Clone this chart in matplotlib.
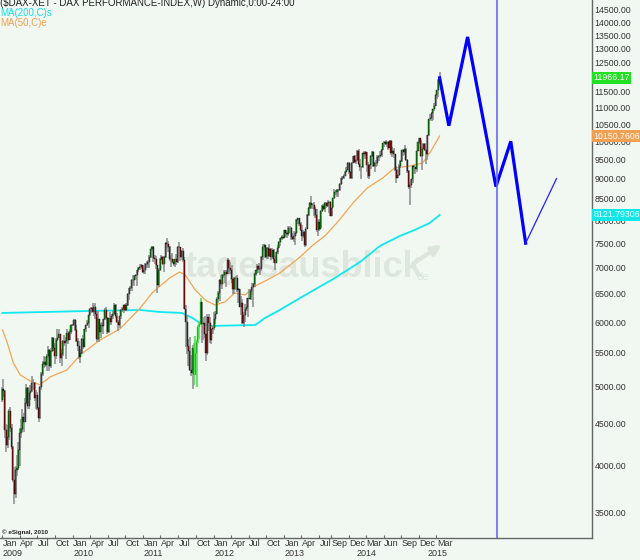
import numpy as np
import pandas as pd
import matplotlib
matplotlib.use("Agg")
import matplotlib.pyplot as plt
import matplotlib.dates as mdates
import matplotlib.transforms as mtransforms

plt.rcParams['font.family'] = ['Liberation Sans', 'DejaVu Sans']

# Weekly DAX bars (week ending Friday), Jan 2009 - Mar 2015
close_2009 = [4973, 4937, 4424, 4241, 4338, 4665, 4451, 4216, 3843, 3695,
              3953, 3977, 4177, 4384, 4443, 4594, 4527, 4769, 4987, 4738,
              4918, 4941, 5053, 5052, 4840, 4884, 4708, 4576, 4999, 5185,
              5332, 5368, 5309, 5458, 5553, 5294, 5528, 5732, 5581, 5459,
              5710, 5743, 5795, 5415, 5489, 5681, 5663, 5686, 5817, 5709,
              5831, 5945]
high_2009 = [4990, 5111, 4950, 4500, 4490, 4700, 4720, 4500, 4230, 3990,
             4000, 4120, 4280, 4450, 4560, 4690, 4640, 4840, 5040, 4990,
             4980, 5030, 5160, 5110, 5070, 4960, 4930, 4720, 5010, 5210,
             5370, 5460, 5440, 5480, 5610, 5560, 5570, 5760, 5750, 5660,
             5730, 5890, 5880, 5810, 5560, 5700, 5780, 5760, 5880, 5850,
             5880, 5960]
low_2009 = [4790, 4860, 4320, 4160, 4210, 4300, 4400, 4190, 3820, 3588,
            3650, 3880, 3950, 4000, 4320, 4400, 4400, 4520, 4760, 4700,
            4700, 4820, 4920, 4950, 4800, 4700, 4680, 4520, 4570, 4960,
            5150, 5270, 5290, 5220, 5420, 5230, 5270, 5510, 5530, 5330,
            5400, 5690, 5730, 5350, 5300, 5460, 5610, 5410, 5660, 5640,
            5700, 5800]

close_2010 = [5957, 6037, 5875, 5696, 5608, 5434, 5500, 5722, 5598, 5877,
              5945, 5982, 6120, 6236, 6250, 6180, 6259, 6136, 5716, 6056,
              5830, 5946, 5938, 6049, 6216, 6070, 5835, 6065, 5998, 6113,
              6148, 6291, 6110, 6006, 5951, 6099, 6215, 6235, 6299, 6212,
              6291, 6491, 6606, 6601, 6751, 6754, 6833, 6848, 6947, 6992,
              7006, 7057, 6914]
high_2010 = [5970, 6060, 6050, 5950, 5740, 5690, 5560, 5740, 5780, 5890,
             5950, 6040, 6130, 6240, 6270, 6340, 6290, 6330, 6200, 6200,
             6060, 5990, 6010, 6060, 6240, 6260, 6090, 6070, 6170, 6140,
             6200, 6340, 6320, 6160, 6030, 6100, 6230, 6270, 6300, 6320,
             6330, 6510, 6610, 6640, 6770, 6860, 6850, 6880, 6960, 7010,
             7070, 7070, 7060]
low_2010 = [5930, 5940, 5860, 5670, 5530, 5410, 5340, 5480, 5560, 5590,
            5830, 5930, 5900, 6100, 6160, 6170, 6110, 6060, 5680, 5700,
            5670, 5740, 5840, 5800, 6030, 6040, 5800, 5820, 5960, 5950,
            6060, 6130, 6070, 5990, 5860, 5900, 6060, 6170, 6150, 6200,
            6190, 6280, 6390, 6560, 6560, 6660, 6640, 6760, 6650, 6920,
            6960, 6970, 6900]

close_2011 = [6947, 7075, 7062, 7102, 7216, 7371, 7426, 7185, 7178, 7044,
              6664, 6947, 7176, 7217, 7068, 7205, 7514, 7492, 7414, 7164,
              7164, 7109, 7070, 7165, 7121, 7419, 7420, 7220, 7345, 7159,
              6236, 5997, 5602, 5537, 5246, 5190, 5574, 5164, 5502, 5675,
              5920, 5971, 6346, 5966, 5986, 5800, 5492, 6080, 5987, 5702,
              5878, 5898]
high_2011 = [7020, 7090, 7140, 7160, 7250, 7380, 7440, 7430, 7260, 7230,
             7060, 6990, 7200, 7260, 7240, 7230, 7530, 7600, 7540, 7440,
             7250, 7300, 7170, 7180, 7280, 7430, 7530, 7420, 7350, 7400,
             7210, 6290, 6130, 5720, 5750, 5470, 5630, 5660, 5770, 5700,
             5960, 6010, 6430, 6350, 6080, 6100, 5810, 6140, 6140, 6090,
             5890, 5930]
low_2011 = [6880, 6870, 6990, 7020, 7000, 7190, 7330, 7110, 7080, 6980,
            6510, 6620, 6930, 7150, 7050, 6920, 7190, 7400, 7310, 7130,
            7010, 7100, 7030, 7010, 7050, 7100, 7400, 7130, 7150, 7120,
            6230, 5600, 5480, 5300, 5220, 5150, 4965, 5020, 5230, 5000,
            5650, 5720, 5960, 5650, 5710, 5740, 5370, 5470, 5860, 5650,
            5640, 5810]

close_2012 = [6057, 6143, 6404, 6512, 6767, 6692, 6849, 6864, 6921, 6880,
              7157, 6996, 6947, 6775, 6583, 6801, 6801, 6562, 6580, 6271,
              6339, 5978, 6131, 6229, 6263, 6416, 6410, 6558, 6630, 6689,
              6865, 6945, 7040, 6971, 6970, 7214, 7412, 7451, 7216, 7398,
              7232, 7380, 7203, 7363, 7164, 7101, 7309, 7405, 7518, 7614,
              7636, 7612]
high_2012 = [6180, 6200, 6440, 6560, 6780, 6860, 6880, 6950, 6960, 6960,
             7190, 7160, 7110, 7050, 6800, 6820, 6840, 6850, 6610, 6590,
             6460, 6400, 6170, 6310, 6420, 6430, 6580, 6580, 6710, 6700,
             6890, 6960, 7070, 7100, 7040, 7230, 7480, 7480, 7460, 7420,
             7410, 7480, 7390, 7390, 7380, 7230, 7320, 7460, 7550, 7620,
             7680, 7670]
low_2012 = [5870, 5970, 6140, 6340, 6370, 6650, 6590, 6790, 6710, 6630,
            6870, 6920, 6880, 6700, 6490, 6500, 6570, 6540, 6330, 6260,
            6130, 5970, 5920, 6010, 6200, 6080, 6400, 6390, 6470, 6260,
            6630, 6830, 6890, 6900, 6860, 6930, 7150, 7330, 7190, 7180,
            7180, 7220, 7150, 7170, 7100, 6950, 7120, 7270, 7400, 7450,
            7560, 7590]

close_2013 = [7776, 7715, 7702, 7833, 7833, 7634, 7593, 7661, 7708, 8000,
              8043, 7912, 7795, 7659, 7745, 7459, 7814, 8122, 8278, 8399,
              8353, 8349, 8255, 8128, 7789, 7959, 7806, 8212, 8331, 8267,
              8409, 8338, 8391, 8417, 8103, 8275, 8510, 8675, 8661, 8725,
              8725, 8870, 9018, 9010, 9078, 9168, 9225, 9405, 9172, 9007,
              9400, 9589]
high_2013 = [7780, 7790, 7760, 7870, 7880, 7860, 7720, 7770, 7740, 8020,
             8060, 8050, 7960, 7900, 7790, 7760, 7840, 8140, 8300, 8420,
             8560, 8410, 8430, 8300, 8260, 8010, 8030, 8230, 8360, 8370,
             8420, 8420, 8480, 8420, 8440, 8290, 8520, 8730, 8710, 8730,
             8740, 8880, 9020, 9070, 9120, 9190, 9290, 9420, 9420, 9200,
             9420, 9600]
low_2013 = [7600, 7640, 7610, 7660, 7710, 7570, 7560, 7530, 7460, 7690,
            7920, 7870, 7770, 7550, 7600, 7420, 7440, 7840, 8100, 8260,
            8260, 8270, 8090, 8050, 7740, 7660, 7760, 7830, 8180, 8240,
            8200, 8290, 8300, 8170, 8100, 8090, 8300, 8500, 8600, 8540,
            8550, 8700, 8850, 8970, 8990, 9060, 9160, 9230, 9120, 8990,
            8990, 9400]

close_2014 = [9435, 9473, 9742, 9392, 9306, 9292, 9663, 9657, 9692, 9350,
              9056, 9342, 9588, 9695, 9315, 9409, 9401, 9556, 9581, 9630,
              9768, 9943, 9987, 9912, 9987, 9815, 10009, 9666, 9720, 9644,
              9210, 9009, 9092, 9339, 9470, 9747, 9691, 9799, 9490, 9195,
              8788, 8850, 8988, 9327, 9291, 9252, 9732, 9980, 10087, 9594,
              9787, 9922]
high_2014 = [9620, 9490, 9760, 9790, 9500, 9320, 9670, 9720, 9720, 9690,
             9420, 9370, 9610, 9730, 9720, 9420, 9490, 9620, 9630, 9730,
             9780, 9960, 10000, 10050, 9990, 10000, 10050, 10030, 9830, 9800,
             9650, 9340, 9250, 9380, 9480, 9770, 9790, 9890, 9800, 9500,
             9230, 8900, 9000, 9350, 9360, 9310, 9740, 9990, 10090, 10050,
             9850, 9940]
low_2014 = [9400, 9370, 9460, 9360, 9200, 8990, 9270, 9560, 9520, 9180,
            9010, 9000, 9260, 9580, 9290, 9170, 9290, 9320, 9450, 9550,
            9560, 9750, 9840, 9890, 9840, 9750, 9800, 9620, 9570, 9550,
            9190, 8900, 9010, 9060, 9270, 9440, 9600, 9620, 9450, 9140,
            8740, 8355, 8770, 8890, 9120, 9120, 9180, 9730, 9930, 9580,
            9220, 9780]

close_2015 = [9765, 9648, 10168, 10649, 10694, 10846, 10963, 11050, 11402, 11550, 11901, 11966]
high_2015 = [9960, 9780, 10190, 10650, 10810, 10860, 10970, 11130, 11420, 11560, 11920, 12150]
low_2015 = [9720, 9380, 9480, 10150, 10580, 10580, 10620, 10900, 11040, 11280, 11330, 11860]

first_open = 4810

# weeks drawn with the bright green signal outline
signal_weeks = ['2011-09-23', '2011-09-30', '2011-10-07', '2011-10-14', '2011-10-21', '2011-10-28']

# Moving averages as shown by the chart (vertices)
ma200_dates = ['2009-01-01', '2010-04-01', '2010-12-17', '2011-03-28', '2011-07-20',
               '2011-09-13', '2011-10-24', '2011-12-13', '2012-08-04', '2012-09-24',
               '2012-12-10', '2013-03-25', '2013-09-13', '2014-01-30', '2014-05-12',
               '2014-08-24', '2014-11-09', '2015-01-26', '2015-03-18']
ma200_values = [6158, 6193, 6210, 6175, 6158, 6072, 5986, 5936, 5952, 6072,
                6210, 6425, 6779, 7112, 7440, 7654, 7785, 7941, 8122]

ma50_dates = ['2009-01-02', '2009-01-27', '2009-02-27', '2009-04-04', '2009-05-25',
              '2009-07-15', '2009-09-05', '2009-12-02', '2010-02-09', '2010-05-23',
              '2010-09-02', '2010-12-17', '2011-02-21', '2011-05-19', '2011-07-09',
              '2011-08-07', '2011-09-28', '2011-11-18', '2012-01-08', '2012-02-29',
              '2012-04-20', '2012-06-13', '2012-08-04', '2012-10-05', '2012-12-10',
              '2013-03-25', '2013-05-31', '2013-07-31', '2013-10-01', '2013-12-24',
              '2014-03-08', '2014-05-27', '2014-07-27', '2014-10-16', '2014-12-20',
              '2015-01-26', '2015-03-18']
ma50_values = [5870, 5657, 5348, 5169, 5082, 5026, 5139, 5242, 5469, 5706,
               5886, 6245, 6534, 6798, 6914, 6856, 6572, 6388, 6299, 6352,
               6516, 6479, 6646, 6760, 6894, 7214, 7462, 7654, 7941, 8402,
               8765, 9017, 9275, 9328, 9407, 9677, 10151]

# hand-drawn forecast path
forecast_dates = ['2015-03-18', '2015-05-05', '2015-08-10', '2016-01-04', '2016-03-21', '2016-06-06']
forecast_values = [11966, 10450, 13430, 8800, 10000, 7500]
rebound_dates = ['2016-06-06', '2016-11-13']
rebound_values = [7500, 9000]
marker_date = '2016-01-08'

last_labels = [('11966.17', 11966, '#22e022'), ('10150.7606', 10151, '#f0a050'),
               ('8121.79306', 8122, '#10e8e8')]

# ---------------------------------------------------------------
closes = np.array(close_2009 + close_2010 + close_2011 + close_2012 + close_2013 + close_2014 + close_2015, float)
highs = np.array(high_2009 + high_2010 + high_2011 + high_2012 + high_2013 + high_2014 + high_2015, float)
lows = np.array(low_2009 + low_2010 + low_2011 + low_2012 + low_2013 + low_2014 + low_2015, float)
opens = np.concatenate([[first_open], closes[:-1]])

fridays = pd.date_range('2009-01-02', periods=len(closes), freq='W-FRI')
weeks = fridays - pd.Timedelta(days=2)
x = mdates.date2num(weeks)
signal = fridays.isin(pd.to_datetime(signal_weeks))

bg = '#f1f8f1'
fig = plt.figure(figsize=(6.4, 5.6), dpi=100, facecolor=bg)
ax = fig.add_axes([0, 22 / 560, 592 / 640, 538 / 560], facecolor=bg)
ax.set_yscale('log')
ax.set_ylim(3261, 14907)
ax.set_xlim(mdates.datestr2num('2008-12-20'), mdates.datestr2num('2017-05-16'))

# watermark
ax.text(mdates.datestr2num('2011-08-01'), 7000, 'tagesausblick', fontsize=26, fontweight='bold',
        color='#dde7dd', ha='left', va='center', zorder=0)
ax.text(mdates.datestr2num('2014-11-20'), 6750, 'de', fontsize=8, color='#dde7dd', zorder=0)
ax.annotate('', xy=(mdates.datestr2num('2015-04-10'), 7500), xytext=(mdates.datestr2num('2014-10-20'), 7050),
            arrowprops=dict(arrowstyle='-|>', color='#dce7dc', lw=3, mutation_scale=14), zorder=0)

# moving averages
ax.plot(pd.to_datetime(ma200_dates), ma200_values, color='#10e8f0', lw=1.3, zorder=2)
ax.plot(pd.to_datetime(ma50_dates), ma50_values, color='#f5a552', lw=0.9, zorder=2)

# candles
up = closes >= opens
ax.vlines(x, lows, highs, color=np.where(signal, '#44dd44', '#8a8a8a'), lw=1.1, zorder=3)
body_lo = np.minimum(opens, closes)
body_hi = np.maximum(opens, closes)
ax.bar(x, body_hi - body_lo, bottom=body_lo, width=5.5,
       color=np.where(up, '#0a9a0a', '#9a0a0a'),
       edgecolor=np.where(signal, '#44dd44', '#111111'), lw=0.3, zorder=4)

# forecast
ax.plot(pd.to_datetime(forecast_dates), forecast_values, color='#0000ff', lw=2.3, zorder=5,
        solid_joinstyle='miter')
ax.plot(pd.to_datetime(rebound_dates), rebound_values, color='#2020ff', lw=0.9, zorder=5)
ax.axvline(mdates.datestr2num(marker_date), color='#6a6af0', lw=1.2, zorder=5)

# axes styling
for side in ['top', 'left']:
    ax.spines[side].set_visible(False)
for side in ['right', 'bottom']:
    ax.spines[side].set_color('#666666')
    ax.spines[side].set_linewidth(1)

ax.yaxis.tick_right()
yt = np.arange(3500, 15001, 500)
ax.yaxis.set_major_locator(matplotlib.ticker.FixedLocator(yt))
ax.yaxis.set_minor_locator(matplotlib.ticker.NullLocator())
ax.set_yticklabels(['%.2f' % v for v in yt])
ax.tick_params(axis='y', length=0, pad=2, labelsize=6.3, labelcolor='#333333')

# month ticks and labels
month_ticks = (['%d-%02d-01' % (y, m) for y in range(2009, 2013) for m in (1, 4, 7, 10)]
               + ['2013-01-01', '2013-04-01', '2013-07-01', '2013-09-01', '2013-12-01',
                  '2014-03-01', '2014-06-01', '2014-09-01', '2014-12-01', '2015-03-01'])
month_names = [pd.Timestamp(d).strftime('%b') for d in month_ticks]
year_pos = ['2009-01-01', '2010-01-01', '2011-01-01', '2012-01-01', '2013-01-01', '2014-01-10', '2015-01-10']
year_names = ['2009', '2010', '2011', '2012', '2013', '2014', '2015']

ax.set_xticks(mdates.datestr2num(month_ticks))
ax.set_xticklabels([])
ax.tick_params(axis='x', length=2, direction='in', color='#666666')
trans = mtransforms.blended_transform_factory(ax.transData, fig.transFigure)
for d, name in zip(month_ticks, month_names):
    ax.text(mdates.datestr2num(d) + 3, 1 - 544 / 560, name, transform=trans, fontsize=6.5,
            color='#333333', ha='left', va='center', clip_on=False)
for d, name in zip(year_pos, year_names):
    ax.text(mdates.datestr2num(d) + 3, 1 - 554 / 560, name, transform=trans, fontsize=6.5,
            color='#333333', ha='left', va='center', clip_on=False)

# last value boxes on the price axis
ytrans = mtransforms.blended_transform_factory(ax.transAxes, ax.transData)
for txt, val, col in last_labels:
    ax.text(1.002, val, txt, transform=ytrans, fontsize=6.3, color='white',
            ha='left', va='center', clip_on=False, zorder=10,
            bbox=dict(boxstyle='square,pad=0.15', facecolor=col, edgecolor='none'))

# header texts
fig.text(0.0, 1 - 3 / 560, '($DAX-XET - DAX PERFORMANCE-INDEX,W) Dynamic,0:00-24:00',
         fontsize=7, color='#222222', ha='left', va='center')
fig.text(0.0, 1 - 13 / 560, 'MA(200,C)s', fontsize=7, color='#10e0e8', ha='left', va='center')
fig.text(0.0, 1 - 23 / 560, 'MA(50,C)e', fontsize=7, color='#f0a050', ha='left', va='center')
fig.text(0.003, 1 - 532 / 560, '\u00a9 eSignal, 2010', fontsize=4.5, fontweight='bold',
         color='#222222', ha='left', va='center')

fig.savefig('out.png', dpi=100, facecolor=bg)
